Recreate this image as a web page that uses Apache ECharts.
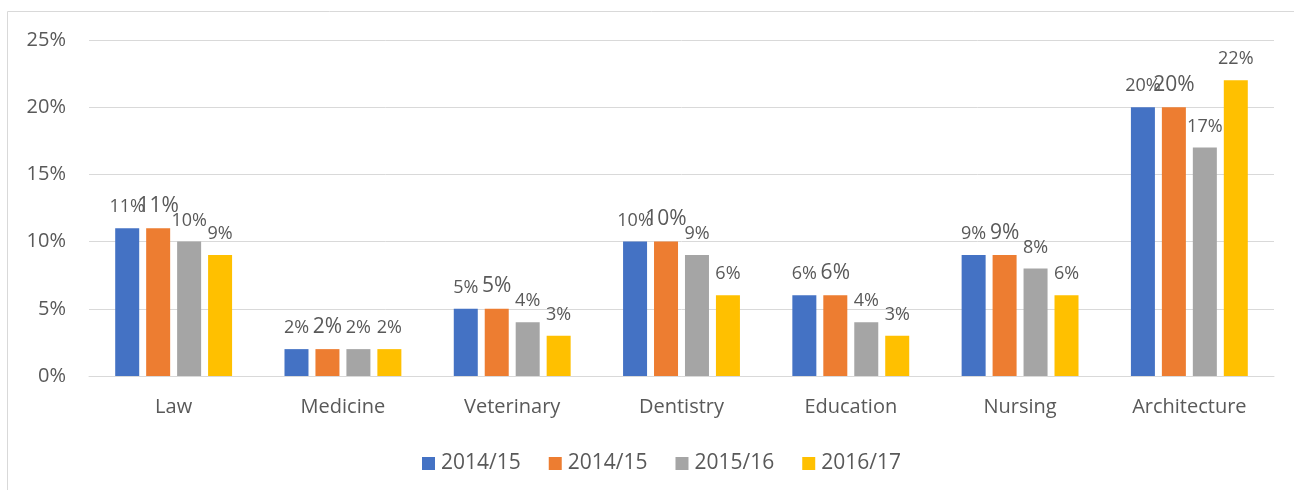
<!DOCTYPE html>
<html>
<head>
<meta charset="utf-8">
<script src="https://cdn.jsdelivr.net/npm/echarts@6/dist/echarts.min.js"></script>
<style>
  html, body { margin: 0; padding: 0; background: #fff; }
  #chart { width: 1294px; height: 490px; }
</style>
</head>
<body>
<div id="chart"></div>
<script>
// categories and values (percent)
const categories = ['Law', 'Medicine', 'Veterinary', 'Dentistry', 'Education', 'Nursing', 'Architecture'];
const seriesNames = ['2014/15', '2014/15', '2015/16', '2016/17'];
const seriesKeys = ['s1', 's2', 's3', 's4']; // unique keys, two series share a label
const s1 = [11, 2, 5, 10, 6, 9, 20];
const s2 = [11, 2, 5, 10, 6, 9, 20];
const s3 = [10, 2, 4, 9, 4, 8, 17];
const s4 = [9, 2, 3, 6, 3, 6, 22];
const yTicks = [0, 5, 10, 15, 20, 25];

const colors = ['#4472C4', '#ED7D31', '#A5A5A5', '#FFC000'];
const font = 'Open Sans';
const textColor = '#595959';

const chart = echarts.init(document.getElementById('chart'));

const makeSeries = (key, data, color, labelSize) => ({
  name: key,
  type: 'bar',
  data: data,
  barWidth: 24,
  barGap: '29%',
  itemStyle: { color: color },
  label: {
    show: true,
    position: 'top',
    distance: 12,
    formatter: p => p.value + '%',
    color: textColor,
    fontFamily: font,
    fontSize: labelSize
  }
});

chart.setOption({
  animation: false,
  graphic: [{
    type: 'rect',
    shape: { x: 7.5, y: 11.5, width: 1300, height: 500 },
    style: { fill: 'none', stroke: '#d9d9d9', lineWidth: 1 }
  }],
  legend: {
    data: seriesKeys,
    formatter: k => seriesNames[seriesKeys.indexOf(k)],
    left: 417,
    top: 448,
    itemWidth: 13,
    itemHeight: 13,
    itemGap: 28,
    icon: 'rect',
    textStyle: { color: textColor, fontFamily: font, fontSize: 21, padding: [0, 0, 0, 1] }
  },
  grid: { left: 89, right: 20, top: 40, height: 336 },
  xAxis: {
    type: 'category',
    data: categories,
    axisLine: { lineStyle: { color: '#d9d9d9', width: 1 } },
    axisTick: { show: false },
    axisLabel: { color: textColor, fontFamily: font, fontSize: 20, margin: 21 }
  },
  yAxis: {
    type: 'value',
    min: yTicks[0],
    max: yTicks[yTicks.length - 1],
    interval: 5,
    axisLine: { show: false },
    axisTick: { show: false },
    splitLine: { lineStyle: { color: '#d9d9d9', width: 1 } },
    axisLabel: { color: textColor, fontFamily: font, fontSize: 20, margin: 23, formatter: v => v + '%' }
  },
  series: [
    makeSeries(seriesKeys[0], s1, colors[0], 18),
    makeSeries(seriesKeys[1], s2, colors[1], 21),
    makeSeries(seriesKeys[2], s3, colors[2], 18),
    makeSeries(seriesKeys[3], s4, colors[3], 18)
  ]
});
</script>
</body>
</html>
